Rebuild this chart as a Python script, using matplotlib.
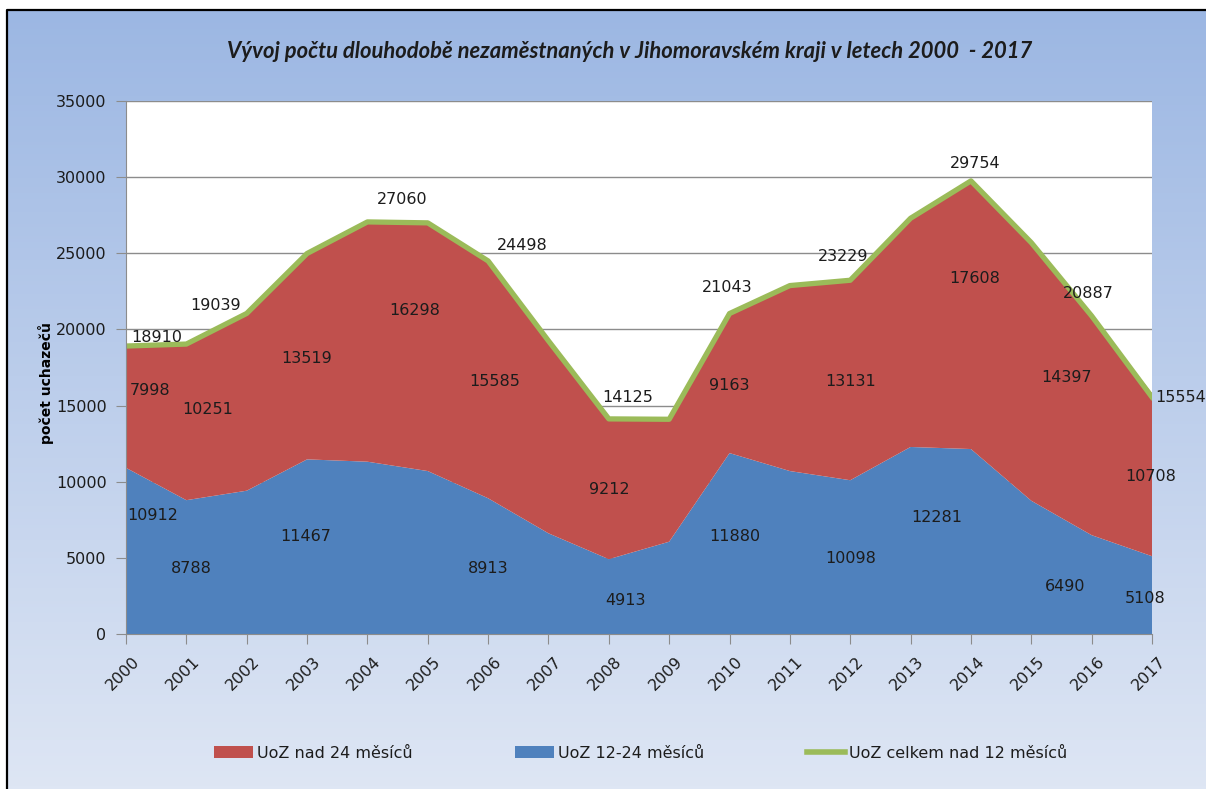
import numpy as np
import matplotlib
matplotlib.use("Agg")
import matplotlib.pyplot as plt
import matplotlib.transforms as mtransforms
from matplotlib.patches import Patch
from matplotlib.lines import Line2D

plt.rcParams["font.family"] = ["DejaVu Sans"]

# Data
roky = list(range(2000, 2018))
uoz_12_24 = [10912, 8788, 9410, 11467, 11314, 10700, 8913, 6612, 4913, 6060,
             11880, 10700, 10098, 12281, 12146, 8750, 6490, 5108]
uoz_nad_24 = [7998, 10251, 11640, 13519, 15746, 16298, 15585, 12638, 9212, 8040,
              9163, 12180, 13131, 15019, 17608, 16950, 14397, 10708]
uoz_celkem = [18910, 19039, 21050, 24986, 27060, 26998, 24498, 19250, 14125, 14100,
              21043, 22880, 23229, 27300, 29754, 25700, 20887, 15554]

nazev = "Vývoj počtu dlouhodobě nezaměstnaných v Jihomoravském kraji v letech 2000  - 2017"
popisky = ["UoZ nad 24 měsíců", "UoZ 12-24 měsíců", "UoZ celkem nad 12 měsíců"]

# Which points carry a value label, and where the label sits (year, y)
pozice_12_24 = {2000: (2000.45, 7810), 2001: (2001.09, 4330), 2003: (2002.98, 6430),
                2006: (2006.0, 4330), 2008: (2008.28, 2230), 2010: (2010.09, 6400),
                2012: (2012.0, 4990), 2013: (2013.44, 7680), 2016: (2015.56, 3090),
                2017: (2016.89, 2360)}
pozice_nad_24 = {2000: (2000.40, 16020), 2001: (2001.36, 14770), 2003: (2003.0, 18120),
                 2005: (2004.79, 21270), 2006: (2006.11, 16610), 2008: (2008.0, 9520),
                 2010: (2010.0, 16350), 2012: (2012.0, 16550), 2014: (2014.07, 23375),
                 2016: (2015.58, 16875), 2017: (2016.97, 10310)}
pozice_celkem = {2000: (2000.51, 19500), 2001: (2001.49, 21540), 2004: (2004.57, 28500),
                 2006: (2006.57, 25480), 2008: (2008.31, 15500), 2010: (2009.96, 22780),
                 2012: (2011.88, 24820), 2014: (2014.07, 30925), 2016: (2015.94, 22390)}

c_modra = "#4F81BD"
c_cervena = "#C0504D"
c_zelena = "#9BBB59"
c_text = "#1c1c1c"
fs = 11.5

W, H = 1206, 789
fig = plt.figure(figsize=(W / 100, H / 100), dpi=100)
fig.patch.set_facecolor("white")

# background with gradient and black frame
bg = fig.add_axes([0, 0, 1, 1])
bg.set_xlim(0, W)
bg.set_ylim(H, 0)
bg.axis("off")
grad = np.linspace(0, 1, 256).reshape(-1, 1)
top = np.array([0x9C, 0xB7, 0xE3]) / 255
bot = np.array([0xDE, 0xE6, 0xF4]) / 255
img = top + grad[..., None] * (bot - top)
img = np.repeat(img, 2, axis=1)
bg.imshow(img, extent=[8, W, H, 11], aspect="auto", zorder=0)
bg.plot([7, 7, W], [H, 10, 10], color="black", lw=1.6, zorder=1)

ax = fig.add_axes([126 / W, 155 / H, 1026 / W, 533 / H])
ax.set_facecolor("white")
ax.stackplot(roky, uoz_12_24, uoz_nad_24, colors=[c_modra, c_cervena], zorder=2)
ax.plot(roky, uoz_celkem, color=c_zelena, lw=3.8, zorder=3)

ax.set_xlim(2000, 2017)
ax.set_ylim(0, 35000)
ax.set_yticks(range(0, 35001, 5000))
ax.grid(axis="y", color="#8c8c8c", lw=1, zorder=1)
ax.set_axisbelow(True)
for s in ["top", "right"]:
    ax.spines[s].set_visible(False)
for s in ["left", "bottom"]:
    ax.spines[s].set_color("#8c8c8c")
    ax.spines[s].set_zorder(4)

ax.tick_params(axis="y", length=7, color="#8c8c8c", pad=7, labelsize=fs, labelcolor=c_text)
ax.tick_params(axis="x", length=7, color="#8c8c8c", pad=11, labelsize=fs, labelcolor=c_text)
ax.set_xticks(roky)
ax.set_xticklabels([str(r) for r in roky], rotation=45, ha="right", va="center",
                   rotation_mode="anchor")
posun = mtransforms.ScaledTranslation(11 / 100, 0, fig.dpi_scale_trans)
for lab in ax.get_xticklabels():
    lab.set_transform(lab.get_transform() + posun)

# value labels
def popis(pozice, hodnoty):
    for rok, (x, y) in pozice.items():
        ax.text(x, y, str(hodnoty[roky.index(rok)]), ha="center", va="center",
                fontsize=fs, color=c_text, zorder=5, clip_on=False)

popis(pozice_12_24, uoz_12_24)
popis(pozice_nad_24, uoz_nad_24)
popis(pozice_celkem, uoz_celkem)
ax.text(2017.05, 15500, str(uoz_celkem[-1]), ha="left", va="center",
        fontsize=fs, color=c_text, zorder=5, clip_on=False)

fig.text(630 / W, 1 - 52 / H, nazev, ha="center", va="center", fontsize=15.8,
         family="Lato", fontweight="bold", style="italic", color=c_text)
fig.text(46 / W, 1 - 383 / H, "počet uchazečů", rotation=90, ha="center", va="center",
         fontsize=10, fontweight="bold", color="black")

handles = [Patch(facecolor=c_cervena), Patch(facecolor=c_modra),
           Line2D([], [], color=c_zelena, lw=4)]
fig.legend(handles, popisky, loc="center", bbox_to_anchor=(641 / W, 36 / H), ncol=3,
           frameon=False, fontsize=fs, handlelength=2.4, handleheight=0.75,
           handletextpad=0.25, columnspacing=6.45, labelcolor=c_text)

fig.savefig("out.png", dpi=100)
